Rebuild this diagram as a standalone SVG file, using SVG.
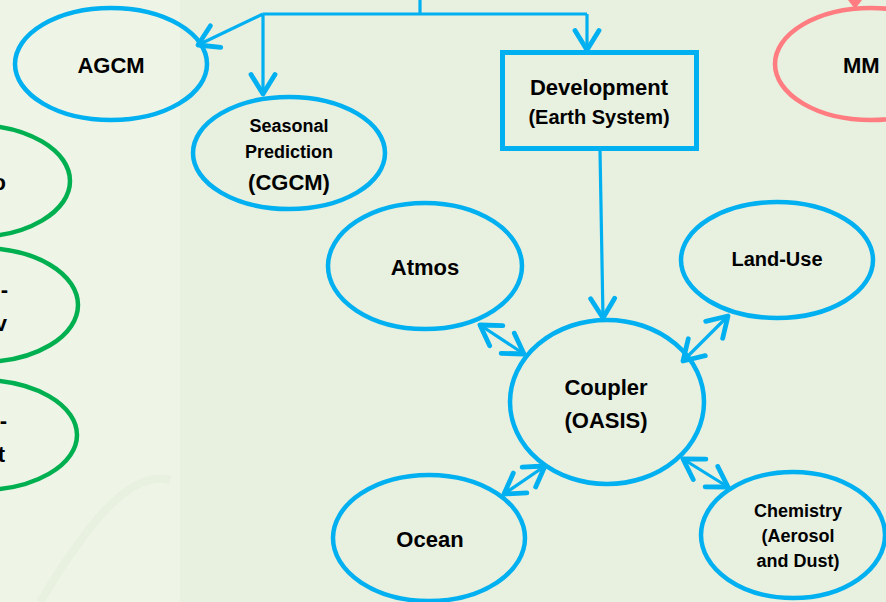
<svg xmlns="http://www.w3.org/2000/svg" width="886" height="602" viewBox="0 0 886 602">
<defs>
<style>
.bg{fill:#E8F0E0}
.node{fill:none;stroke:#00B0F0;stroke-width:4.5}
.green{fill:none;stroke:#00B050;stroke-width:4.5}
.pink{fill:none;stroke:#FF7C80;stroke-width:4.5}
.conn{fill:none;stroke:#00B0F0;stroke-width:3.2}
text{font-family:"Liberation Sans",Arial,sans-serif;font-weight:bold;fill:#000;text-anchor:middle}
.l{text-anchor:end}
</style>
<marker id="ah" markerUnits="userSpaceOnUse" markerWidth="30" markerHeight="30" viewBox="-16 -10 20 20" refX="0" refY="0" orient="auto-start-reverse">
<path d="M-13,-8 L0,0 L-13,8" fill="none" stroke="#00B0F0" stroke-width="3.2" stroke-linecap="round" stroke-linejoin="round"/>
</marker>
</defs>
<rect class="bg" x="0" y="0" width="886" height="602"/>
<rect x="0" y="0" width="180" height="602" fill="#EEF5E7"/>
<path d="M40,602 C90,520 130,470 170,480" fill="none" stroke="#E4ECDC" stroke-width="8" opacity="0.6"/>

<g id="connectors">
<path class="conn" d="M420,0 V14"/>
<path class="conn" d="M263,14 H587"/>
<path class="conn" d="M263,14 L198,45" marker-end="url(#ah)"/>
<path class="conn" d="M263,14 V94" marker-end="url(#ah)"/>
<path class="conn" d="M587,14 V50" marker-end="url(#ah)"/>
<path class="conn" d="M600,150 L603,318" marker-end="url(#ah)"/>
<path class="conn" d="M480,325 L524,354" marker-start="url(#ah)" marker-end="url(#ah)"/>
<path class="conn" d="M683,361 L728,316" marker-start="url(#ah)" marker-end="url(#ah)"/>
<path class="conn" d="M545,466 L504,494" marker-start="url(#ah)" marker-end="url(#ah)"/>
<path class="conn" d="M683,459 L728,487" marker-start="url(#ah)" marker-end="url(#ah)"/>
<polygon points="848,0 862,0 855,9" fill="#FF7C80"/>
</g>

<g id="agcm">
<ellipse class="node" cx="111" cy="64" rx="96" ry="56"/>
<text x="111" y="73" font-size="22">AGCM</text>
</g>
<g id="seasonal">
<ellipse class="node" cx="289" cy="153" rx="96" ry="56"/>
<text x="289" y="132" font-size="18">Seasonal</text>
<text x="289" y="158" font-size="18">Prediction</text>
<text x="289" y="190" font-size="22">(CGCM)</text>
</g>
<g id="development">
<rect x="502.5" y="52.5" width="194" height="96" fill="none" stroke="#00B0F0" stroke-width="5"/>
<text x="599" y="95" font-size="22">Development</text>
<text x="599" y="124" font-size="20">(Earth System)</text>
</g>
<g id="mm">
<ellipse class="pink" cx="871" cy="64" rx="96" ry="56"/>
<text x="843" y="73" font-size="22" style="text-anchor:start">MM</text>
</g>
<g id="green1">
<ellipse class="green" cx="-26" cy="181" rx="96" ry="56"/>
<text class="l" x="6" y="190" font-size="22">o</text>
</g>
<g id="green2">
<ellipse class="green" cx="-18" cy="305" rx="96" ry="57"/>
<text class="l" x="8" y="297" font-size="22">-</text>
<text class="l" x="7" y="331" font-size="22">v</text>
</g>
<g id="green3">
<ellipse class="green" cx="-19" cy="435" rx="96" ry="55"/>
<text class="l" x="7" y="428" font-size="22">-</text>
<text class="l" x="5" y="462" font-size="22">t</text>
</g>
<g id="atmos">
<ellipse class="node" cx="425" cy="266" rx="97" ry="63"/>
<text x="425" y="275" font-size="22">Atmos</text>
</g>
<g id="landuse">
<ellipse class="node" cx="777" cy="260" rx="96" ry="58"/>
<text x="777" y="266" font-size="20">Land-Use</text>
</g>
<g id="coupler">
<ellipse class="node" cx="607" cy="402" rx="97" ry="82"/>
<text x="606" y="395" font-size="22">Coupler</text>
<text x="606" y="428" font-size="22">(OASIS)</text>
</g>
<g id="ocean">
<ellipse class="node" cx="429" cy="538" rx="96" ry="63"/>
<text x="430" y="547" font-size="22">Ocean</text>
</g>
<g id="chemistry">
<ellipse class="node" cx="793" cy="535" rx="92" ry="63"/>
<text x="798" y="517" font-size="18">Chemistry</text>
<text x="798" y="542" font-size="18">(Aerosol</text>
<text x="798" y="567" font-size="18">and Dust)</text>
</g>
</svg>
